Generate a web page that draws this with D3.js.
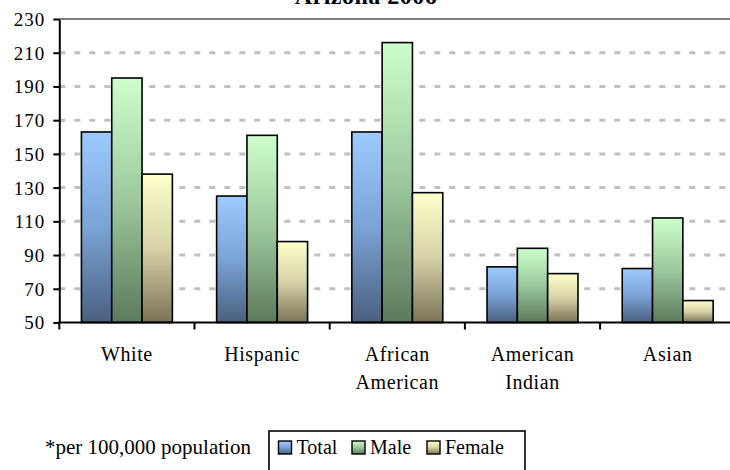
<!DOCTYPE html>
<html>
<head>
<meta charset="utf-8">
<script src="https://cdn.jsdelivr.net/npm/d3@7"></script>
<style>
  html, body { margin: 0; padding: 0; background: #fff; }
  svg { display: block; }
</style>
</head>
<body>
<svg id="chart" width="730" height="470"></svg>
<script>
// Rates per 100,000 population, Arizona 2006
const categories = [["White"], ["Hispanic"], ["African", "American"], ["American", "Indian"], ["Asian"]];
const seriesNames = ["Total", "Male", "Female"];
const totalValues  = [163, 125, 163, 83, 82];
const maleValues   = [195, 161, 216, 94, 112];
const femaleValues = [138, 98, 127, 79, 63];
const yTicks = [50, 70, 90, 110, 130, 150, 170, 190, 210, 230];

const seriesValues = [totalValues, maleValues, femaleValues];
const catKeys = categories.map(c => c.join(" "));
const serif = "'Liberation Serif', 'Times New Roman', serif";

const svg = d3.select("#chart");
const plotLeft = 59.3, plotRight = 735.3, plotTop = 19, plotBottom = 322.5;

const x0 = d3.scaleBand().domain(catKeys).range([plotLeft, plotRight]).padding(0);
const x1 = d3.scaleBand().domain(seriesNames).range([0, x0.bandwidth()])
  .paddingInner(0).paddingOuter(0.73);
const y = d3.scaleLinear().domain([50, 230]).range([plotBottom, plotTop]);

// vertical gradients for each series (light at top, dark at base)
const gradStops = {
  Total:  ["#9ccbff", "#7aa3d6", "#4a607f"],
  Male:   ["#ccffcc", "#9cc89c", "#5c7a5c"],
  Female: ["#ffffcc", "#d6d2a6", "#7a7358"]
};
const defs = svg.append("defs");
seriesNames.forEach(s => {
  const g = defs.append("linearGradient").attr("id", "grad-" + s)
    .attr("x1", 0).attr("y1", 0).attr("x2", 0).attr("y2", 1);
  g.append("stop").attr("offset", "0%").attr("stop-color", gradStops[s][0]);
  g.append("stop").attr("offset", "50%").attr("stop-color", gradStops[s][1]);
  g.append("stop").attr("offset", "100%").attr("stop-color", gradStops[s][2]);
});

// gridlines
svg.append("g").selectAll("line")
  .data(yTicks.filter(t => t > 50 && t < 230))
  .join("line")
  .attr("x1", plotLeft).attr("x2", 730)
  .attr("y1", d => y(d)).attr("y2", d => y(d))
  .attr("stroke", "#c0c0c0").attr("stroke-width", 3)
  .attr("stroke-dasharray", "6,9");

// top frame line
svg.append("line")
  .attr("x1", plotLeft).attr("x2", 730).attr("y1", y(230)).attr("y2", y(230))
  .attr("stroke", "#808080").attr("stroke-width", 2);

// bars
const groups = svg.append("g").selectAll("g")
  .data(catKeys)
  .join("g")
  .attr("transform", d => `translate(${x0(d)},0)`);

groups.selectAll("rect")
  .data((d, i) => seriesNames.map((s, j) => ({ s, v: seriesValues[j][i] })))
  .join("rect")
  .attr("x", d => x1(d.s))
  .attr("width", x1.bandwidth())
  .attr("y", d => y(d.v))
  .attr("height", d => y(50) - y(d.v))
  .attr("fill", d => `url(#grad-${d.s})`)
  .attr("stroke", "#000").attr("stroke-width", 1.6);

// y axis
const yAxis = svg.append("g").attr("transform", `translate(${plotLeft},0)`)
  .call(d3.axisLeft(y).tickValues(yTicks).tickSize(6).tickPadding(8).tickSizeOuter(0));
yAxis.select(".domain").attr("stroke", "#000").attr("stroke-width", 2);
yAxis.selectAll(".tick line").attr("stroke", "#000").attr("stroke-width", 2);
yAxis.selectAll(".tick text")
  .style("font-family", serif).style("font-size", "19px")
  .style("letter-spacing", "1px")
  .attr("fill", "#000")
  .attr("dy", "0.34em");

// x axis with ticks at category boundaries
const xAxisG = svg.append("g");
xAxisG.append("line")
  .attr("x1", plotLeft - 1).attr("x2", 730).attr("y1", plotBottom).attr("y2", plotBottom)
  .attr("stroke", "#000").attr("stroke-width", 2);
xAxisG.selectAll("line.tk")
  .data(catKeys)
  .join("line").attr("class", "tk")
  .attr("x1", d => x0(d)).attr("x2", d => x0(d))
  .attr("y1", plotBottom).attr("y2", plotBottom + 7)
  .attr("stroke", "#000").attr("stroke-width", 2);

// category labels
svg.append("g").selectAll("text")
  .data(categories)
  .join("text")
  .attr("text-anchor", "middle")
  .style("font-family", serif).style("font-size", "20px").style("letter-spacing", "0.6px")
  .attr("transform", (d, i) => `translate(${x0(catKeys[i]) + x0.bandwidth() / 2},361)`)
  .selectAll("tspan")
  .data(d => d)
  .join("tspan")
  .attr("x", 0).attr("y", (d, i) => i * 28)
  .text(d => d);

// title (top partly cut by the canvas edge)
svg.append("text")
  .attr("x", 366).attr("y", 4)
  .attr("text-anchor", "middle")
  .style("font-family", serif).style("font-size", "24px").style("font-weight", "bold")
  .style("letter-spacing", "0.5px")
  .text("Arizona 2006");

// footnote
svg.append("text")
  .attr("x", 45).attr("y", 454)
  .style("font-family", serif).style("font-size", "21px")
  .text("*per 100,000 population");

// legend
const legend = svg.append("g");
legend.append("rect")
  .attr("x", 269).attr("y", 431).attr("width", 256).attr("height", 50)
  .attr("fill", "#fff").attr("stroke", "#000").attr("stroke-width", 1.6);
const legendX = [278.5, 352, 427];
seriesNames.forEach((s, i) => {
  legend.append("rect")
    .attr("x", legendX[i]).attr("y", 441).attr("width", 13).attr("height", 13)
    .attr("fill", `url(#grad-${s})`).attr("stroke", "#000").attr("stroke-width", 1.4);
  legend.append("text")
    .attr("x", legendX[i] + 18).attr("y", 454)
    .style("font-family", serif).style("font-size", "20px")
    .text(s);
});
</script>
</body>
</html>
